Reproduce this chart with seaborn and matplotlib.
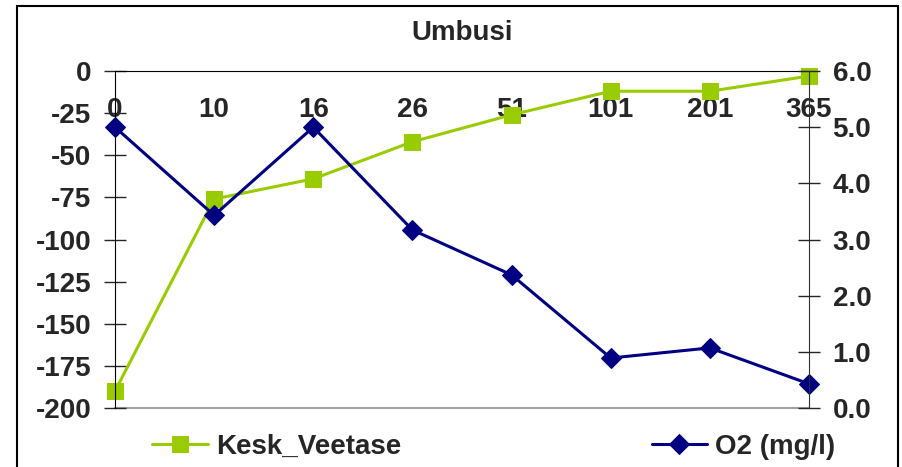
import matplotlib
matplotlib.use('Agg')
import matplotlib.pyplot as plt
import seaborn as sns
import pandas as pd
import numpy as np
from matplotlib.patches import Rectangle

# Data
days = ['0', '10', '16', '26', '51', '101', '201', '365']
water_level = [-190, -76, -64, -42, -26, -12, -12, -3]
oxygen = [5.0, 3.43, 5.0, 3.17, 2.37, 0.89, 1.07, 0.43]

df = pd.DataFrame({'pos': np.arange(len(days)), 'day': days,
                   'Kesk_Veetase': water_level, 'O2 (mg/l)': oxygen})

sns.set_style('white')
plt.rcParams['font.family'] = ['Liberation Sans', 'DejaVu Sans']
plt.rcParams['font.weight'] = 'bold'
plt.rcParams['axes.unicode_minus'] = False

green = '#99CC00'
navy = '#000080'
fs = 20

fig = plt.figure(figsize=(9.03, 4.67), dpi=100)
ax = fig.add_axes([115 / 903, 1 - 408 / 467, (809 - 115) / 903, (408 - 71) / 467])
ax2 = ax.twinx()

sns.lineplot(data=df, x='pos', y='Kesk_Veetase', ax=ax, color=green, marker='s',
             markersize=12, markeredgecolor=green, linewidth=2.2, clip_on=False,
             label='Kesk_Veetase', legend=False)
sns.lineplot(data=df, x='pos', y='O2 (mg/l)', ax=ax2, color=navy, marker='D',
             markersize=10, markeredgecolor=navy, linewidth=2.2, clip_on=False,
             label='O2 (mg/l)', legend=False)

# left axis
ax.set_xlim(0, len(days) - 1)
ax.set_ylim(-200, 0)
ax.set_yticks(np.arange(-200, 1, 25))
ax.set_xticks(df['pos'])
ax.set_xticklabels(days)
ax.set_xlabel('')
ax.set_ylabel('')
ax.spines['top'].set_visible(False)
ax.spines['right'].set_visible(False)
ax.spines['bottom'].set_position(('data', 0))
ax.spines['bottom'].set_color('black')
ax.spines['left'].set_color('black')
ax.axhline(-200, color='#a0a0a0', lw=1.5, clip_on=False, zorder=0)
ax.tick_params(axis='x', direction='inout', length=16, width=1, pad=11, labelsize=fs)
ax.tick_params(axis='y', direction='inout', length=16, width=1, pad=9, labelsize=fs, left=True)

# right axis
ax2.set_ylim(0, 6)
ax2.set_yticks(np.arange(0, 6.1, 1))
ax2.set_yticklabels(['%.1f' % v for v in np.arange(0, 6.1, 1)])
ax2.set_ylabel('')
for s in ['top', 'bottom', 'left']:
    ax2.spines[s].set_visible(False)
ax2.spines['right'].set_color('#303030')
ax2.tick_params(axis='y', direction='inout', length=16, width=1, pad=9, labelsize=fs, right=True)

fig.text(462 / 903, 1 - 33 / 467, 'Umbusi', ha='center', va='center', fontsize=fs, fontweight='bold')

h1, l1 = ax.get_legend_handles_labels()
h2, l2 = ax2.get_legend_handles_labels()
fig.legend(h1 + h2, l1 + l2, loc='center', bbox_to_anchor=(494 / 903, 1 - 447 / 467),
           ncol=2, frameon=False, fontsize=fs, handlelength=2.0, handletextpad=0.3,
           columnspacing=9.0)

fig.patches.append(Rectangle((17 / 903, -0.05), (898 - 17) / 903, 1.05 - 6 / 467,
                             transform=fig.transFigure, fill=False, edgecolor='black', lw=1.5))

fig.savefig('out.png', dpi=100)
